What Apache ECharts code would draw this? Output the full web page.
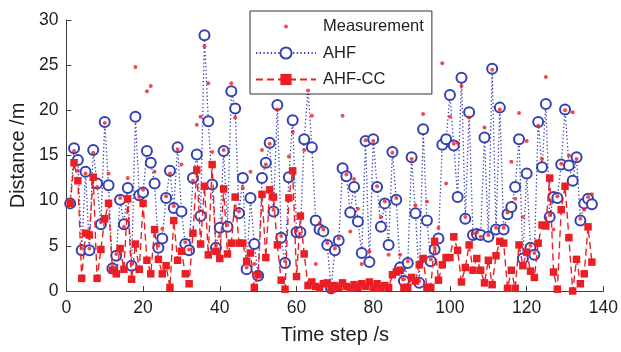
<!DOCTYPE html>
<html>
<head>
<meta charset="utf-8">
<script src="https://cdn.jsdelivr.net/npm/echarts@6/dist/echarts.min.js"></script>
<style>
html,body{margin:0;padding:0;background:#fff;}
#c{width:621px;height:352px;}
</style>
</head>
<body>
<div id="c"></div>
<script>
const xTicks = [0, 20, 40, 60, 80, 100, 120, 140];
const yTicks = [0, 5, 10, 15, 20, 25, 30];
const seriesNames = ['Measurement', 'AHF', 'AHF-CC'];

const measurement = [
  9.7, 15.5, 13.3, 4.7, 13.0, 4.7, 15.3, 11.5, 7.6, 18.6,
  13.0, 2.7, 4.1, 10.3, 7.1, 12.5, 3.0, 24.8, 10.4, 11.2,
  22.1, 22.7, 13.2, 5.0, 6.9, 10.5, 13.0, 9.4, 15.7, 14.0,
  5.4, 4.6, 12.2, 18.4, 19.3, 27.1, 23.0, 15.4, 5.0, 6.1,
  15.6, 7.3, 23.0, 19.2, 8.8, 11.4, 2.6, 13.2, 3.0, 1.9,
  15.6, 14.0, 16.3, 9.0, 20.1, 6.1, 3.3, 14.9, 17.6, 6.7,
  6.3, 15.6, 22.2, 19.4, 3.0, 7.5, 6.8, 5.3, 0.5, 4.7,
  5.8, 19.4, 12.9, 6.6, 12.4, 9.1, 3.0, 16.7, 4.4, 16.6,
  11.6, 8.2, 9.9, 4.0, 15.3, 10.3, 4.0, 1.3, 3.3, 14.6,
  9.5, 1.1, 19.6, 9.9, 3.5, 4.8, 7.0, 25.2, 11.9, 19.3,
  16.3, 16.4, 22.7, 8.2, 19.2, 6.4, 6.5, 6.0, 18.1, 6.2,
  24.5, 7.0, 20.1, 7.0, 8.7, 14.3, 10.2, 19.7, 8.2, 16.6,
  5.0, 4.2, 18.3, 14.6, 23.7, 8.4, 6.8, 10.5, 14.1, 20.0,
  15.0, 19.8, 14.6, 8.0, 9.0, 10.4, 10.7
];

const ahf = [
  9.7, 15.8, 14.5, 4.5, 13.2, 4.5, 15.6, 11.9, 7.4, 18.7,
  11.7, 2.5, 3.9, 10.1, 7.4, 11.4, 2.8, 19.3, 10.6, 10.9,
  15.5, 14.2, 11.9, 4.8, 5.8, 10.3, 13.3, 9.2, 15.9, 8.8,
  5.2, 4.5, 12.5, 15.1, 8.3, 28.3, 18.8, 11.8, 4.8, 7.0,
  15.5, 7.1, 22.1, 20.2, 8.6, 12.5, 2.4, 10.3, 5.2, 1.7,
  12.5, 14.2, 16.4, 8.8, 20.6, 5.9, 3.1, 12.6, 18.9, 6.5,
  6.5, 16.8, 22.4, 15.9, 7.8, 6.8, 6.6, 5.1, 0.3, 4.5,
  5.6, 13.6, 12.7, 8.7, 11.5, 7.7, 4.2, 16.6, 3.2, 16.8,
  11.5, 7.1, 9.7, 5.1, 15.4, 10.1, 2.6, 1.1, 3.1, 14.8,
  8.6, 0.9, 17.9, 7.8, 3.3, 4.6, 5.8, 16.2, 16.8, 21.7,
  16.1, 10.4, 23.6, 8.0, 19.8, 6.2, 6.3, 6.2, 17.0, 6.0,
  24.6, 6.8, 20.3, 6.8, 8.5, 9.3, 11.5, 16.8, 3.6, 13.0,
  4.8, 4.0, 18.7, 13.7, 20.7, 8.2, 10.4, 10.3, 14.0, 20.1,
  13.9, 12.2, 14.8, 7.8, 9.7, 10.2, 9.6
];

const ahfCC = [
  9.7, 14.2, 12.2, 1.4, 6.4, 6.2, 12.6, 1.4, 4.6, 8.0,
  9.7, 2.3, 1.9, 4.7, 2.4, 10.2, 1.3, 5.2, 2.4, 9.7,
  3.4, 1.9, 6.8, 3.5, 1.9, 2.8, 0.4, 7.8, 3.4, 4.4,
  1.9, 0.8, 6.4, 13.4, 5.2, 11.6, 4.0, 14.0, 4.4, 3.6,
  11.3, 4.1, 5.3, 10.4, 5.3, 5.3, 3.3, 4.2, 0.4, 1.8,
  10.7, 3.7, 11.2, 10.4, 5.1, 1.2, 0.2, 10.3, 13.3, 1.6,
  8.3, 4.1, 0.6, 1.0, 0.5, 0.3, 0.8, 0.9, 0.2, 0.6,
  0.4, 0.9, 0.5, 0.3, 0.7, 0.4, 0.8, 0.5, 1.0, 0.3,
  0.8, 0.3, 0.6, 0.4, 1.8, 2.1, 2.3, 0.4, 0.4, 1.5,
  1.1, 2.9, 3.6, 0.4, 0.4, 5.5, 1.2, 2.9, 3.7, 3.7,
  6.0, 4.5, 1.0, 2.6, 5.1, 2.3, 3.6, 2.3, 0.9, 3.4,
  0.7, 3.9, 5.5, 5.3, 0.3, 2.3, 0.3, 5.1, 2.8, 4.3,
  2.2, 1.5, 5.3, 7.3, 7.2, 12.5, 2.1, 0.2, 9.0, 11.6,
  5.9, 0.0, 3.5, 0.8, 1.9, 7.1, 3.2
];

function pairs(arr) {
  const out = [];
  for (let i = 0; i < arr.length; i++) out.push([i + 1, arr[i]]);
  return out;
}

const RED = '#ea1f25';
const BLUE = '#3641b0';
const FONT = 'Liberation Sans';
const TXT = '#1e1e1e';
const AX = '#3c3c3c';

const chart = echarts.init(document.getElementById('c'), null, {renderer: 'canvas'});
chart.setOption({
  animation: false,
  backgroundColor: '#fff',
  grid: {left: 66, right: 17, top: 20, bottom: 61, containLabel: false},
  legend: {
    orient: 'vertical',
    left: 250,
    top: 11,
    padding: [7, 8, 6, 5],
    itemWidth: 60,
    itemHeight: 14,
    itemGap: 9.5,
    borderColor: '#333',
    borderWidth: 1,
    backgroundColor: '#fff',
    textStyle: {fontFamily: FONT, fontSize: 16.5, color: TXT, padding: [0, 0, 0, 2]},
    data: [
      {name: seriesNames[0], icon: 'path://M0,0M60,0M60,14M0,14M28,7a2,2 0 1,0 4,0a2,2 0 1,0 -4,0Z'},
      {name: seriesNames[1]},
      {name: seriesNames[2]}
    ]
  },
  xAxis: {
    type: 'value',
    min: xTicks[0],
    max: xTicks[xTicks.length - 1],
    interval: 20,
    name: 'Time step /s',
    nameLocation: 'middle',
    nameGap: 34,
    nameTextStyle: {fontFamily: FONT, fontSize: 20, color: TXT},
    axisLine: {show: true, onZero: false, lineStyle: {color: AX, width: 1}},
    axisTick: {show: true, inside: true, length: 5, lineStyle: {color: AX}},
    axisLabel: {fontFamily: FONT, fontSize: 17.5, color: TXT, margin: 8},
    splitLine: {show: false}
  },
  yAxis: {
    type: 'value',
    min: yTicks[0],
    max: yTicks[yTicks.length - 1],
    interval: 5,
    name: 'Distance /m',
    nameLocation: 'middle',
    nameGap: 32,
    nameTextStyle: {fontFamily: FONT, fontSize: 20, color: TXT},
    axisLine: {show: true, onZero: false, lineStyle: {color: AX, width: 1}},
    axisTick: {show: true, inside: true, length: 5, lineStyle: {color: AX}},
    axisLabel: {fontFamily: FONT, fontSize: 17.5, color: TXT, margin: 8},
    splitLine: {show: false}
  },
  series: [
    {
      name: seriesNames[1],
      type: 'line',
      data: pairs(ahf),
      z: 2,
      symbol: 'emptyCircle',
      symbolSize: 10,
      showAllSymbol: true,
      color: BLUE,
      itemStyle: {color: BLUE, borderColor: BLUE, borderWidth: 1.6},
      lineStyle: {color: BLUE, width: 1.3, type: [1.3, 2.4]}
    },
    {
      name: seriesNames[2],
      type: 'line',
      data: pairs(ahfCC),
      z: 3,
      symbol: 'rect',
      symbolSize: 7.5,
      showAllSymbol: true,
      color: RED,
      itemStyle: {color: RED},
      lineStyle: {color: RED, width: 1.4, type: [7, 4]}
    },
    {
      name: seriesNames[0],
      type: 'scatter',
      data: pairs(measurement),
      z: 4,
      symbol: 'circle',
      symbolSize: 4,
      color: RED,
      itemStyle: {color: RED}
    }
  ]
});
</script>
</body>
</html>
